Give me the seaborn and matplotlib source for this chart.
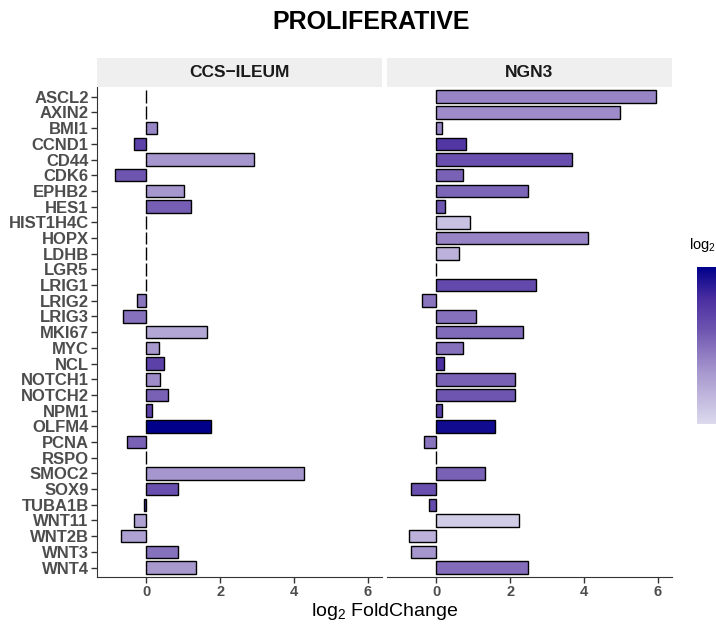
import pandas as pd
import matplotlib
matplotlib.use("Agg")
import matplotlib.pyplot as plt
import seaborn as sns
from matplotlib.colors import LinearSegmentedColormap, Normalize
from matplotlib.cm import ScalarMappable

# Data
genes = ["ASCL2", "AXIN2", "BMI1", "CCND1", "CD44", "CDK6", "EPHB2", "HES1",
         "HIST1H4C", "HOPX", "LDHB", "LGR5", "LRIG1", "LRIG2", "LRIG3", "MKI67",
         "MYC", "NCL", "NOTCH1", "NOTCH2", "NPM1", "OLFM4", "PCNA", "RSPO",
         "SMOC2", "SOX9", "TUBA1B", "WNT11", "WNT2B", "WNT3", "WNT4"]
ccs_lfc = [0, 0, 0.29, -0.34, 2.92, -0.85, 1.03, 1.20, 0, 0, 0, 0, 0, -0.24, -0.64, 1.65,
           0.35, 0.48, 0.38, 0.59, 0.17, 1.76, -0.51, 0, 4.27, 0.86, -0.07, -0.33, -0.68, 0.86, 1.35]
ngn3_lfc = [5.94, 4.96, 0.17, 0.82, 3.67, 0.72, 2.49, 0.23, 0.92, 4.12, 0.61, 0, 2.69, -0.37, 1.09, 2.34,
            0.72, 0.20, 2.14, 2.14, 0.17, 1.60, -0.34, 0, 1.33, -0.68, -0.20, 2.25, -0.74, -0.68, 2.49]
ccs_col = [4, 4, 3.2, 5.6, 2.7, 4.8, 2.7, 4.5, 4, 4, 4, 4, 4, 3.8, 3.9, 2.0,
           2.6, 5.6, 3.0, 4.4, 5.6, 8.0, 4.4, 4, 2.7, 5.0, 6.3, 2.2, 2.3, 3.9, 2.6]
ngn3_col = [3.3, 3.0, 3.3, 6.0, 5.0, 4.4, 4.3, 4.8, 1.0, 3.3, 1.6, 4, 5.3, 3.8, 3.9, 4.1,
            3.9, 6.3, 4.4, 4.8, 5.8, 7.6, 3.8, 4, 4.4, 5.0, 5.2, 0.5, 1.6, 2.7, 4.0]
facets = ["CCS\u2212ILEUM", "NGN3"]

sns.set_style("white")
plt.rcParams["font.family"] = ["Liberation Sans", "DejaVu Sans"]
plt.rcParams["mathtext.fontset"] = "custom"
plt.rcParams["mathtext.rm"] = "Liberation Sans"
plt.rcParams["mathtext.it"] = "Liberation Sans:italic"

cmap = LinearSegmentedColormap.from_list(
    "purp", [(0, "#dcdaed"), (0.35, "#a393cc"), (0.6, "#6e55b0"), (0.8, "#4a2ea0"), (1, "#00008b")])
norm = Normalize(0, 8)

W, H = 716, 629
fig = plt.figure(figsize=(W / 100, H / 100), dpi=100)


def box(x0, y0, x1, y1):
    return [x0 / W, 1 - y1 / H, (x1 - x0) / W, (y1 - y0) / H]


panels = [(facets[0], ccs_lfc, ccs_col, 97, 382), (facets[1], ngn3_lfc, ngn3_col, 387, 672)]
for i, (name, lfc, col, x0, x1) in enumerate(panels):
    ax = fig.add_axes(box(x0, 87, x1, 577))
    df = pd.DataFrame({"gene": genes, "lfc": lfc, "col": col})
    pal = {g: cmap(norm(c)) for g, c in zip(genes, col)}
    sns.barplot(data=df, x="lfc", y="gene", hue="gene", palette=pal, order=genes,
                hue_order=genes, orient="h", width=0.8, saturation=1, errorbar=None,
                edgecolor="black", linewidth=1, legend=False, ax=ax)
    ax.set_xlim(-1.33, 6.38)
    ax.set_ylim(len(genes) - 0.4, -0.62)
    ax.set_xticks([0, 2, 4, 6])
    ax.set_xlabel("")
    ax.set_ylabel("")
    for s in ["top", "right"]:
        ax.spines[s].set_visible(False)
    ax.spines["bottom"].set_color("#333333")
    ax.spines["left"].set_color("#333333")
    ax.tick_params(axis="x", bottom=True, length=4, width=1, color="#333333",
                   labelsize=10.5, labelcolor="#4d4d4d", pad=2)
    for t in ax.get_xticklabels():
        t.set_fontweight("bold")
    if i == 0:
        ax.tick_params(axis="y", left=True, length=4, width=1, color="#333333",
                       labelsize=12, labelcolor="#4d4d4d", pad=2)
        for t in ax.get_yticklabels():
            t.set_fontweight("bold")
    else:
        ax.spines["left"].set_visible(False)
        ax.tick_params(axis="y", left=False, labelleft=False)

    # facet strip
    sax = fig.add_axes(box(x0, 58, x1, 87))
    sax.set_facecolor("#efefef")
    for s in sax.spines.values():
        s.set_visible(False)
    sax.set_xticks([])
    sax.set_yticks([])
    sax.text(0.5, 0.5, name, ha="center", va="center", fontsize=12.5,
             fontweight="bold", color="#1a1a1a", transform=sax.transAxes)

fig.text(0.518, 0.965, "PROLIFERATIVE", ha="center", va="center",
         fontsize=18, fontweight="bold", color="black")
fig.text(384.5 / W, 1 - 612 / H, r"log$_2$ FoldChange", ha="center", va="center",
         fontsize=14, color="black")

# colour bar (runs off the right edge, as in the reference)
cax = fig.add_axes(box(697, 267, 740, 424))
cb = fig.colorbar(ScalarMappable(norm=norm, cmap=cmap), cax=cax, ticks=[2, 4, 6])
cb.outline.set_visible(False)
cax.tick_params(direction="in", color="white", length=6, width=1, left=True, right=True,
                labelright=False, labelleft=False)
fig.text(689 / W, 1 - 245 / H, r"log$_2$", ha="left", va="center",
         fontsize=10.5, color="black")

fig.savefig("out.png", dpi=100)
